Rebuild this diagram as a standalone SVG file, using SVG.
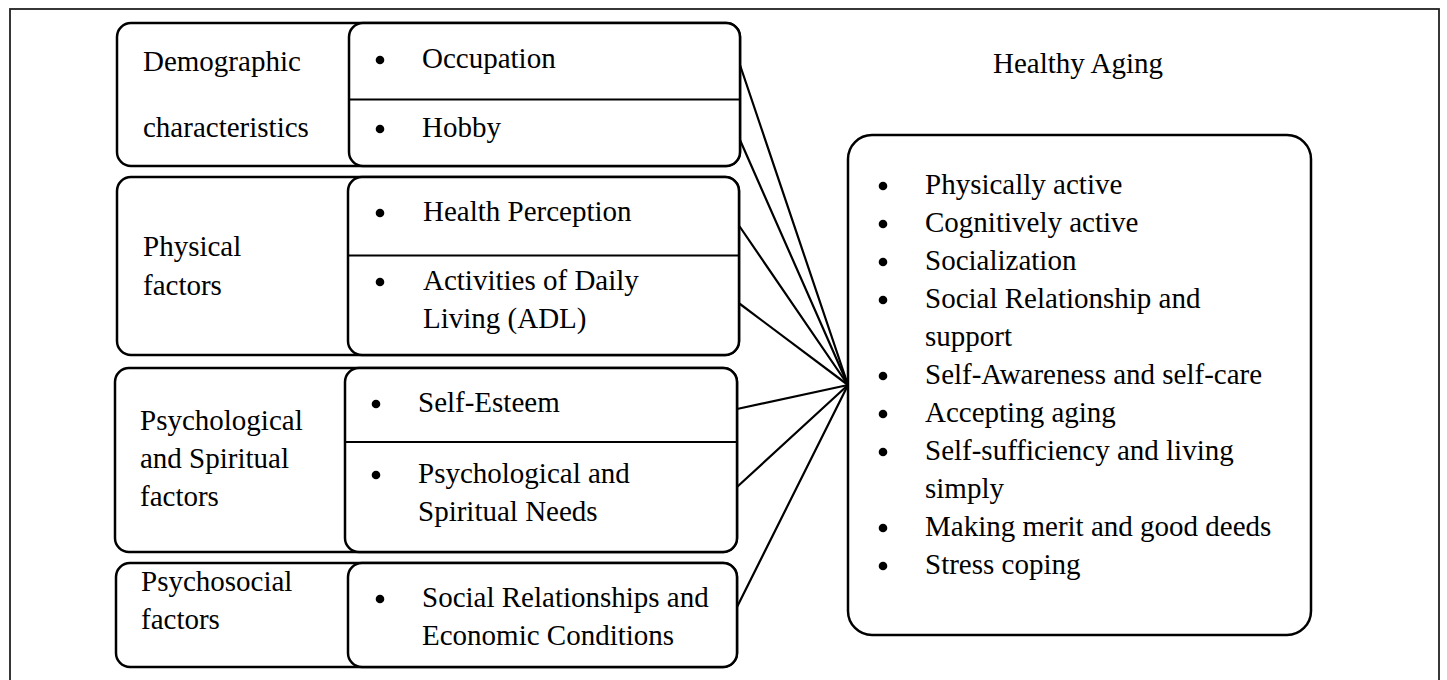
<svg xmlns="http://www.w3.org/2000/svg" width="1447" height="680" viewBox="0 0 1447 680">
  <style>
    .frame { fill: none; stroke: #222; stroke-width: 1.8; }
    .box { fill: #fff; stroke: #000; stroke-width: 2.5; }
    .div { stroke: #000; stroke-width: 2.2; }
    .link { stroke: #000; stroke-width: 2.2; fill: none; stroke-linecap: round; }
    text { font-family: "Liberation Serif", "Times New Roman", serif; font-size: 29px; fill: #000; }
    .dot { fill: #000; }
  </style>
  <defs>
    <circle id="bullet" r="4.3" class="dot"/>
  </defs>

  <rect class="frame" x="10" y="9" width="1429" height="700"/>

  <!-- connectors from each factor to the outcome box -->
  <g id="connectors">
    <line class="link" x1="740" y1="65" x2="848" y2="385"/>
    <line class="link" x1="740" y1="140" x2="848" y2="385"/>
    <line class="link" x1="740" y1="227" x2="848" y2="385"/>
    <line class="link" x1="740" y1="304" x2="848" y2="385"/>
    <line class="link" x1="737" y1="409" x2="848" y2="385"/>
    <line class="link" x1="737" y1="487" x2="848" y2="385"/>
    <line class="link" x1="737" y1="607" x2="848" y2="385"/>
  </g>

  <!-- Demographic characteristics -->
  <g id="demographic">
    <rect class="box" x="117" y="23" width="623" height="143" rx="14"/>
    <text x="143" y="71">Demographic</text>
    <text x="143" y="137">characteristics</text>
    <g id="demographic-items">
      <rect class="box" x="349" y="23" width="391" height="143" rx="14"/>
      <line class="div" x1="349" y1="99.5" x2="740" y2="99.5"/>
      <use href="#bullet" x="380" y="60"/>
      <text x="422" y="68">Occupation</text>
      <use href="#bullet" x="380" y="129"/>
      <text x="422" y="137">Hobby</text>
    </g>
  </g>

  <!-- Physical factors -->
  <g id="physical">
    <rect class="box" x="117" y="177" width="622" height="178" rx="14"/>
    <text x="143" y="256">Physical</text>
    <text x="143" y="295">factors</text>
    <g id="physical-items">
      <rect class="box" x="348" y="177" width="391" height="178" rx="14"/>
      <line class="div" x1="348" y1="255.5" x2="739" y2="255.5"/>
      <use href="#bullet" x="380" y="213"/>
      <text x="423" y="221">Health Perception</text>
      <use href="#bullet" x="380" y="282"/>
      <text x="423" y="290">Activities of Daily</text>
      <text x="423" y="328">Living (ADL)</text>
    </g>
  </g>

  <!-- Psychological and Spiritual factors -->
  <g id="psychological">
    <rect class="box" x="115" y="368" width="622" height="184" rx="14"/>
    <text x="140" y="430">Psychological</text>
    <text x="140" y="468">and Spiritual</text>
    <text x="140" y="506">factors</text>
    <g id="psychological-items">
      <rect class="box" x="345" y="368" width="392" height="184" rx="14"/>
      <line class="div" x1="345" y1="442" x2="737" y2="442"/>
      <use href="#bullet" x="376" y="404"/>
      <text x="418" y="412">Self-Esteem</text>
      <use href="#bullet" x="376" y="475"/>
      <text x="418" y="483">Psychological and</text>
      <text x="418" y="521">Spiritual Needs</text>
    </g>
  </g>

  <!-- Psychosocial factors -->
  <g id="psychosocial">
    <rect class="box" x="116" y="563" width="621" height="104" rx="14"/>
    <text x="141" y="591">Psychosocial</text>
    <text x="141" y="629">factors</text>
    <g id="psychosocial-items">
      <rect class="box" x="348" y="563" width="389" height="104" rx="14"/>
      <use href="#bullet" x="380" y="599"/>
      <text x="422" y="607">Social Relationships and</text>
      <text x="422" y="645">Economic Conditions</text>
    </g>
  </g>

  <!-- Healthy Aging outcome -->
  <g id="healthy-aging">
    <text x="993" y="73">Healthy Aging</text>
    <rect class="box" x="848" y="135" width="463" height="500" rx="24"/>
    <use href="#bullet" x="883" y="186"/>
    <text x="925" y="194">Physically active</text>
    <use href="#bullet" x="883" y="224"/>
    <text x="925" y="232">Cognitively active</text>
    <use href="#bullet" x="883" y="262"/>
    <text x="925" y="270">Socialization</text>
    <use href="#bullet" x="883" y="300"/>
    <text x="925" y="308">Social Relationship and</text>
    <text x="925" y="346">support</text>
    <use href="#bullet" x="883" y="376"/>
    <text x="925" y="384">Self-Awareness and self-care</text>
    <use href="#bullet" x="883" y="414"/>
    <text x="925" y="422">Accepting aging</text>
    <use href="#bullet" x="883" y="452"/>
    <text x="925" y="460">Self-sufficiency and living</text>
    <text x="925" y="498">simply</text>
    <use href="#bullet" x="883" y="528"/>
    <text x="925" y="536">Making merit and good deeds</text>
    <use href="#bullet" x="883" y="566"/>
    <text x="925" y="574">Stress coping</text>
  </g>
</svg>
